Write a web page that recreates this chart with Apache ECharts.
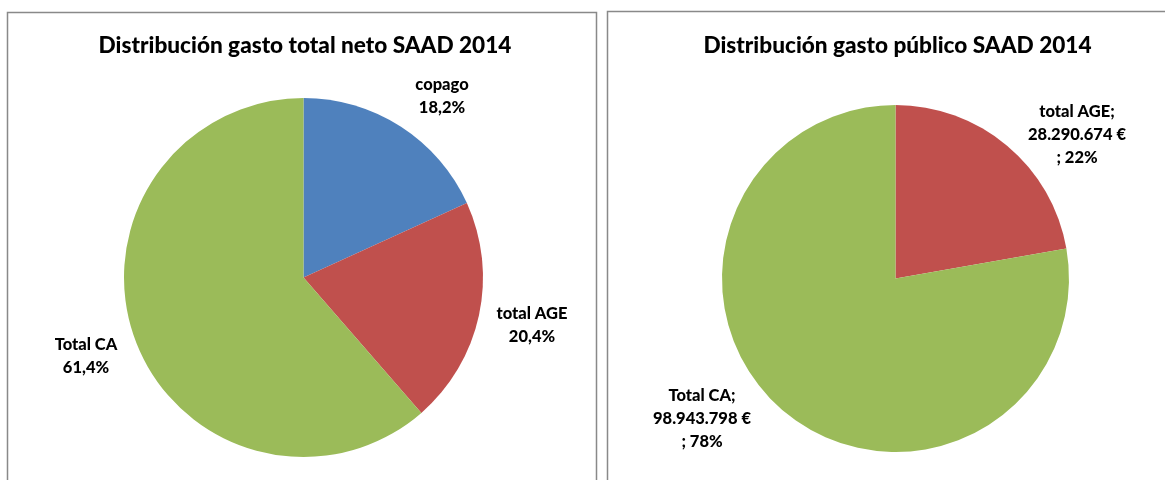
<!DOCTYPE html>
<html>
<head>
<meta charset="utf-8">
<script src="https://cdn.jsdelivr.net/npm/echarts@6/dist/echarts.min.js"></script>
<style>
html,body{margin:0;padding:0;background:#fff;}
#chart{width:1165px;height:480px;}
</style>
</head>
<body>
<div id="chart"></div>
<script>
// Left chart: distribution of total net spending (percent)
const leftTitle = 'Distribución gasto total neto SAAD 2014';
const leftCategories = ['copago', 'total AGE', 'Total CA'];
const leftValues = [18.2, 20.4, 61.4];

// Right chart: distribution of public spending (euros)
const rightTitle = 'Distribución gasto público SAAD 2014';
const rightCategories = ['total AGE', 'Total CA'];
const rightValues = [28290674, 98943798];

const leftColors = ['#4F81BD', '#C0504D', '#9BBB59'];
const rightColors = ['#C0504D', '#9BBB59'];

// label anchor positions (layout only)
const leftLabelPos = [[442, 96], [532, 325], [86, 356]];
const rightLabelPos = [[1077, 135], [702, 419]];

const FONT = 'Lato';

function fmtThousands(v) {
  return String(v).replace(/\B(?=(\d{3})+(?!\d))/g, '.');
}

const chart = echarts.init(document.getElementById('chart'));
const labelStyle = {
  show: true,
  color: '#000',
  fontFamily: FONT,
  fontWeight: 900,
  fontSize: 16.5,
  lineHeight: 23,
  align: 'center'
};

chart.setOption({
  animation: false,
  graphic: [
    { type: 'rect', shape: { x: 7.5, y: 12.5, width: 589, height: 500 },
      style: { fill: 'none', stroke: '#898989', lineWidth: 1.5 } },
    { type: 'rect', shape: { x: 607.5, y: 11.5, width: 600, height: 500 },
      style: { fill: 'none', stroke: '#898989', lineWidth: 1.5 } }
  ],
  title: [
    { text: leftTitle, left: 300, top: 29, textAlign: 'center',
      textStyle: { fontFamily: FONT, fontWeight: 900, fontSize: 22.6, color: '#000' } },
    { text: rightTitle, left: 892.5, top: 29, textAlign: 'center',
      textStyle: { fontFamily: FONT, fontWeight: 900, fontSize: 22.6, color: '#000' } }
  ],
  series: [
    {
      type: 'pie',
      center: [303.5, 277.5],
      radius: 179.5,
      startAngle: 90,
      clockwise: true,
      color: leftColors,
      data: leftCategories.map((c, i) => ({ name: c, value: leftValues[i] })),
      itemStyle: { borderWidth: 0 },
      label: Object.assign({}, labelStyle, {
        position: 'outside',
        formatter: p => p.name + '\n' + p.value.toFixed(1).replace('.', ',') + '%'
      }),
      labelLine: { show: false },
      labelLayout: p => ({ x: leftLabelPos[p.dataIndex][0], y: leftLabelPos[p.dataIndex][1], align: 'center', verticalAlign: 'middle' }),
      emphasis: { disabled: true }
    },
    {
      type: 'pie',
      center: [895.5, 278.5],
      radius: 173.5,
      startAngle: 90,
      clockwise: true,
      color: rightColors,
      data: rightCategories.map((c, i) => ({ name: c, value: rightValues[i] })),
      itemStyle: { borderWidth: 0 },
      label: Object.assign({}, labelStyle, {
        position: 'outside',
        formatter: p => p.name + ';\n' + fmtThousands(p.value) + ' €\n; ' + Math.round(p.percent) + '%'
      }),
      labelLine: { show: false },
      labelLayout: p => ({ x: rightLabelPos[p.dataIndex][0], y: rightLabelPos[p.dataIndex][1], align: 'center', verticalAlign: 'middle' }),
      emphasis: { disabled: true }
    }
  ]
});
</script>
</body>
</html>
